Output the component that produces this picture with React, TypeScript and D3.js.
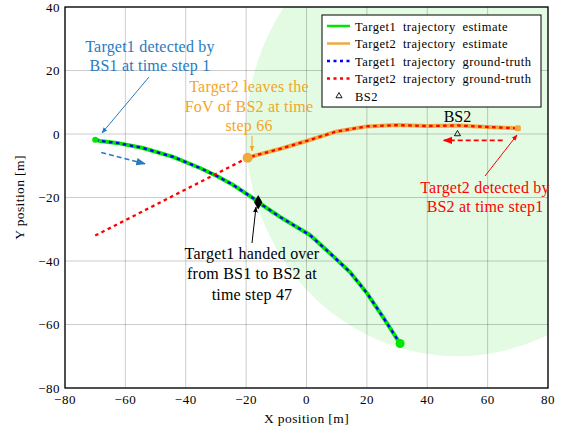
import React from 'react';
import * as d3 from 'd3';

// trajectories, in metres
const target1X = [-70, -68.4, -62.8, -54.2, -44.2, -35.3, -29.7, -24.4, -17.7, -16, -8.8, 1.1, 7.7, 14.4, 20.0, 25.3, 31];
const target1Y = [-1.8, -2.2, -2.8, -4.4, -7.2, -10.7, -13.2, -16, -20.2, -21.5, -26.1, -31.8, -37.5, -43.5, -50.1, -57.6, -66];
const target2X = [-70, -19.5, -16, -8, 0, 10, 20, 30, 40, 50, 60, 70];
const target2Y = [-32, -7.5, -6.5, -4.5, -2.2, 0.8, 2.4, 2.8, 2.5, 2.7, 2.2, 1.8];
const bs2 = [50, 0];
const fovRadius = 70;
const handover = [-16, -21.5];

const xTicks = [-80, -60, -40, -20, 0, 20, 40, 60, 80];
const yTicks = [-80, -60, -40, -20, 0, 20, 40];

const legendLabels = [
  'Target1 trajectory estimate',
  'Target2 trajectory estimate',
  'Target1 trajectory ground-truth',
  'Target2 trajectory ground-truth',
  'BS2',
];

const GREEN = '#00e600';
const ORANGE = '#f2a93b';
const BLUE = '#0000ff';
const RED = '#ff0000';
const ANNO_BLUE = '#2a7ac0';
const ANNO_ORANGE = '#f5a623';
const FONT = '"Liberation Serif", serif';

const fmt = (v: number) => (v < 0 ? '\u2212' + Math.abs(v) : String(v));

export default function App() {
  const width = 569, height = 429;
  const m = { left: 65, right: 21, top: 7, bottom: 41 };
  const x = d3.scaleLinear().domain([-80, 80]).range([m.left, width - m.right]);
  const y = d3.scaleLinear().domain([-80, 40]).range([height - m.bottom, m.top]);

  const line = d3.line<[number, number]>().x(d => x(d[0])).y(d => y(d[1]));
  const t1 = target1X.map((v, i) => [v, target1Y[i]] as [number, number]);
  const t2 = target2X.map((v, i) => [v, target2Y[i]] as [number, number]);
  const t2est = t2.slice(1);

  const rPx = x(bs2[0] + fovRadius) - x(bs2[0]);
  const ryPx = y(bs2[1] - fovRadius) - y(bs2[1]);

  const arrow = (id: string, color: string) => (
    <marker id={id} viewBox="0 0 10 10" refX="9" refY="5" markerWidth="6" markerHeight="6" orient="auto-start-reverse">
      <path d="M0,1 L10,5 L0,9 z" fill={color} />
    </marker>
  );

  const lx = 322, ly = 15;
  const rowY = (i: number) => ly + 11 + i * 17.5;

  return (
    <>
      <style>{`body{margin:0}`}</style>
      <svg width={width} height={height} style={{ display: 'block', fontFamily: FONT }}>
        <defs>
          <clipPath id="plot">
            <rect x={m.left} y={m.top} width={x(80) - x(-80)} height={y(-80) - y(40)} />
          </clipPath>
          {arrow('ab', ANNO_BLUE)}
          {arrow('ao', ANNO_ORANGE)}
          {arrow('ak', '#000')}
          {arrow('ar', RED)}
        </defs>

        {/* FoV of BS2 */}
        <ellipse clipPath="url(#plot)" cx={x(bs2[0])} cy={y(bs2[1])} rx={rPx} ry={ryPx} fill="#e3fbe3" />

        {/* grid */}
        {xTicks.map(t => <line key={'gx' + t} x1={x(t)} x2={x(t)} y1={y(-80)} y2={y(40)} stroke="#000" strokeOpacity={0.2} />)}
        {yTicks.map(t => <line key={'gy' + t} x1={x(-80)} x2={x(80)} y1={y(t)} y2={y(t)} stroke="#000" strokeOpacity={0.2} />)}

        {/* frame */}
        <rect x={m.left} y={m.top} width={x(80) - x(-80)} height={y(-80) - y(40)} fill="none" stroke="#000" strokeWidth={1.3} />

        {/* tick labels */}
        {xTicks.map(t => <text key={'tx' + t} x={x(t)} y={y(-80) + 16} textAnchor="middle" fontSize={13} letterSpacing={0.5}>{fmt(t)}</text>)}
        {yTicks.map(t => <text key={'ty' + t} x={m.left - 5} y={y(t) + 4.5} textAnchor="end" fontSize={13} letterSpacing={0.5}>{fmt(t)}</text>)}
        <text x={x(0)} y={height - 6} textAnchor="middle" fontSize={13.5} letterSpacing={0.4}>X position [m]</text>
        <text transform={`translate(24, ${y(-20)}) rotate(-90)`} textAnchor="middle" fontSize={13.5} letterSpacing={0.4}>Y position [m]</text>

        {/* trajectories */}
        <path d={line(t1)!} fill="none" stroke={GREEN} strokeWidth={4} />
        <path d={line(t2est)!} fill="none" stroke={ORANGE} strokeWidth={4} />
        <path d={line(t1)!} fill="none" stroke={BLUE} strokeWidth={2.3} strokeDasharray="3.5 3.5" />
        <path d={line(t2)!} fill="none" stroke={RED} strokeWidth={2.3} strokeDasharray="3.5 3.5" />

        {/* markers */}
        <circle cx={x(target1X[0])} cy={y(target1Y[0])} r={3} fill={GREEN} />
        <circle cx={x(target1X[target1X.length - 1])} cy={y(target1Y[target1Y.length - 1])} r={4.5} fill={GREEN} />
        <circle cx={x(target2X[1])} cy={y(target2Y[1])} r={5} fill={ORANGE} />
        <rect x={x(target2X[target2X.length - 1]) - 3} y={y(target2Y[target2Y.length - 1]) - 3} width={6} height={6} rx={1.5} fill={ORANGE} />
        <path d={d3.symbol(d3.symbolDiamond, 60)()!} transform={`translate(${x(handover[0])},${y(handover[1])})`} fill="#000" />
        <path d={d3.symbol(d3.symbolTriangle, 16)()!} transform={`translate(${x(bs2[0])},${y(bs2[1])})`} fill="none" stroke="#000" strokeWidth={0.9} />
        <text x={x(bs2[0])} y={y(bs2[1]) - 12} textAnchor="middle" fontSize={16}>BS2</text>

        {/* annotations */}
        <g fontSize={16} textAnchor="middle" letterSpacing={0.2}>
          <text fill={ANNO_BLUE}>
            <tspan x={150} y={52}>Target1 detected by</tspan>
            <tspan x={150} y={71}>BS1 at time step 1</tspan>
          </text>
          <line x1={149} y1={77} x2={102} y2={133} stroke={ANNO_BLUE} strokeWidth={1} markerEnd="url(#ab)" />
          <line x1={x(-68)} y1={y(-5.8)} x2={x(-53.5)} y2={y(-9.4)} stroke={ANNO_BLUE} strokeWidth={1.6} strokeDasharray="5 3" markerEnd="url(#ab)" />

          <text fill={ANNO_ORANGE}>
            <tspan x={249} y={92}>Target2 leaves the</tspan>
            <tspan x={249} y={112}>FoV of BS2 at time</tspan>
            <tspan x={249} y={131}>step 66</tspan>
          </text>
          <line x1={252} y1={136} x2={252} y2={151} stroke={ANNO_ORANGE} strokeWidth={1} markerEnd="url(#ao)" />

          <text fill="#000">
            <tspan x={252} y={259}>Target1 handed over</tspan>
            <tspan x={252} y={279}>from BS1 to BS2 at</tspan>
            <tspan x={252} y={300}>time step 47</tspan>
          </text>
          <line x1={252} y1={243} x2={256} y2={207} stroke="#000" strokeWidth={1} markerEnd="url(#ak)" />

          <text fill={RED}>
            <tspan x={485} y={193}>Target2 detected by</tspan>
            <tspan x={485} y={212}>BS2 at time step1</tspan>
          </text>
          <line x1={485} y1={176} x2={517} y2={135} stroke={RED} strokeWidth={1} markerEnd="url(#ar)" />
          <line x1={x(65)} y1={y(-2)} x2={x(45.5)} y2={y(-2)} stroke={RED} strokeWidth={1.6} strokeDasharray="5 3" markerEnd="url(#ar)" />
        </g>

        {/* legend */}
        <rect x={lx} y={ly} width={219} height={92} fill="#fff" stroke="#000" strokeWidth={1} />
        <line x1={327} x2={350} y1={rowY(0)} y2={rowY(0)} stroke={GREEN} strokeWidth={2.5} />
        <line x1={327} x2={350} y1={rowY(1)} y2={rowY(1)} stroke={ORANGE} strokeWidth={2.5} />
        <line x1={327} x2={350} y1={rowY(2)} y2={rowY(2)} stroke={BLUE} strokeWidth={2.5} strokeDasharray="3 3.5" />
        <line x1={327} x2={350} y1={rowY(3)} y2={rowY(3)} stroke={RED} strokeWidth={2.5} strokeDasharray="3 3.5" />
        <path d={d3.symbol(d3.symbolTriangle, 16)()!} transform={`translate(339,${rowY(4)})`} fill="none" stroke="#000" strokeWidth={0.9} />
        {legendLabels.map((s, i) => (
          <text key={s} x={355} y={rowY(i) + 4.5} fontSize={12.5} letterSpacing={0.5} wordSpacing={3}>{s}</text>
        ))}
      </svg>
    </>
  );
}
